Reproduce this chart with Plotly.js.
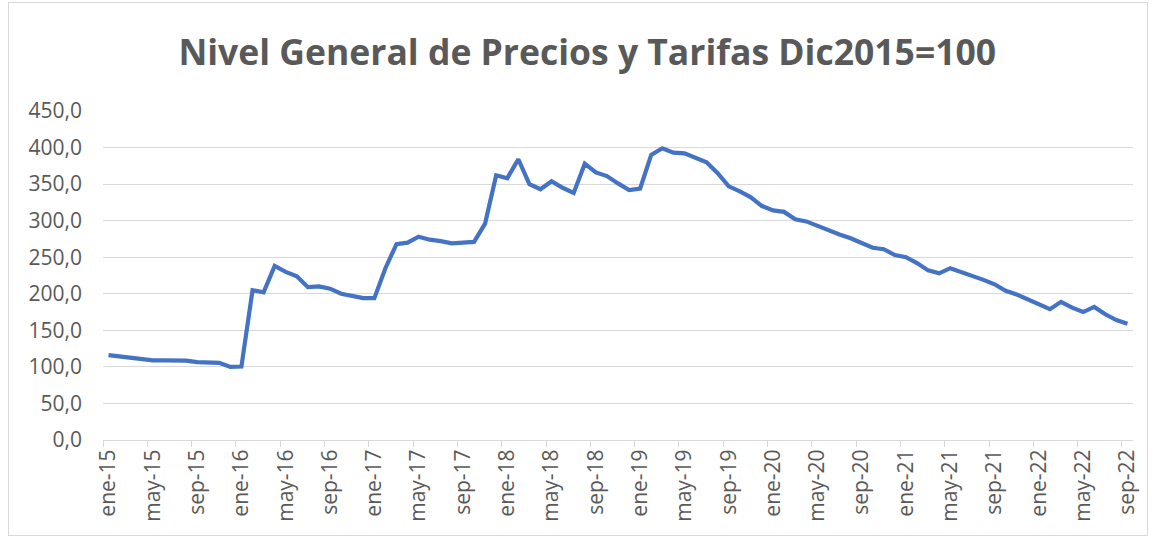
<!DOCTYPE html>
<html>
<head>
<meta charset="utf-8">
<script src="https://cdn.plot.ly/plotly-3.0.1.min.js"></script>
<style>
  html, body { margin: 0; padding: 0; background: #ffffff; }
  #frame { position: absolute; left: 8px; top: 2px; width: 1140px; height: 534px; border: 1px solid #d9d9d9; box-sizing: border-box; pointer-events: none; }
  #chart { position: absolute; left: 0; top: 0; width: 1156px; height: 539px; }
</style>
</head>
<body>
<div id="chart"></div>
<div id="frame"></div>
<script>
// Month labels (Spanish abbreviations), ene-15 .. sep-22
const monthNames = ["ene","feb","mar","abr","may","jun","jul","ago","sep","oct","nov","dic"];
const years = [15, 16, 17, 18, 19, 20, 21, 22];

// Nivel General de Precios y Tarifas (Dic2015 = 100)
const values2015 = [116, 114, 112, 111, 109, 109, 109, 108.5, 106.5, 106.5, 105.5, 100];
const values2016 = [100.5, 205, 202, 238, 230, 224, 209, 210, 207, 200, 197, 194];
const values2017 = [194, 235, 268, 270, 278, 274, 272, 269, 270, 271, 296, 362];
const values2018 = [358, 384, 350, 343, 354, 345, 338, 378, 366, 361, 351, 342];
const values2019 = [344, 390, 399, 393, 392, 386, 380, 365, 347, 340, 332, 320];
const values2020 = [314, 312, 302, 299, 293, 286, 281, 276, 269, 263, 261, 253];
const values2021 = [250, 242, 232, 228, 235, 230, 224, 219, 213, 204, 199, 192];
const values2022 = [185, 179, 189, 181, 175, 182, 172, 164, 159];

const yTickVals = [0, 50, 100, 150, 200, 250, 300, 350, 400, 450];

const allValues = [].concat(values2015, values2016, values2017, values2018,
                            values2019, values2020, values2021, values2022);
const labels = [];
for (const y of years) {
  for (const m of monthNames) {
    if (labels.length < allValues.length) labels.push(m + "-" + y);
  }
}

const grey = "#595959";
const trace = {
  x: labels,
  y: allValues,
  type: "scatter",
  mode: "lines",
  line: { color: "#4472C4", width: 4.2, shape: "linear" },
  hoverinfo: "x+y"
};

const layout = {
  width: 1156,
  height: 539,
  paper_bgcolor: "#ffffff",
  plot_bgcolor: "#ffffff",
  separators: ",.",
  showlegend: false,
  margin: { l: 103, r: 23, t: 111, b: 99 },
  title: {
    text: "<b>Nivel General de Precios y Tarifas Dic2015=100</b>",
    font: { family: "Open Sans, sans-serif", size: 35.5, color: grey },
    x: 0.508, xref: "container", xanchor: "center",
    y: 0.903, yref: "container", yanchor: "middle"
  },
  xaxis: {
    type: "category",
    range: [-0.5, labels.length - 0.5],
    tickmode: "linear",
    tick0: 0,
    dtick: 4,
    tickson: "boundaries",
    ticks: "outside",
    ticklen: 6,
    tickcolor: "#d9d9d9",
    tickwidth: 1,
    tickangle: -90,
    showgrid: false,
    showline: true,
    linecolor: "#d9d9d9",
    linewidth: 1,
    tickfont: { family: "Open Sans, sans-serif", size: 21, color: grey },
    fixedrange: true
  },
  yaxis: {
    range: [0, 450],
    tickmode: "array",
    tickvals: yTickVals,
    tickformat: ".1f",
    showgrid: true,
    gridcolor: "#d9d9d9",
    gridwidth: 1,
    zeroline: false,
    showline: false,
    ticks: "",
    ticklabelstandoff: 20,
    tickfont: { family: "Open Sans, sans-serif", size: 21, color: grey },
    fixedrange: true
  }
};

Plotly.newPlot("chart", [trace], layout, { displayModeBar: false, staticPlot: true });
</script>
</body>
</html>
